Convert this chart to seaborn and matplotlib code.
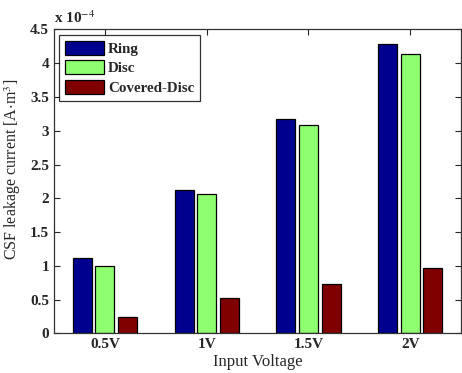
import matplotlib
matplotlib.use("Agg")
import matplotlib.pyplot as plt
import seaborn as sns
import pandas as pd

categories = ["0.5V", "1V", "1.5V", "2V"]
series_names = ["Ring", "Disc", "Covered-Disc"]
ring = [1.11, 2.13, 3.17, 4.29]
disc = [1.00, 2.06, 3.08, 4.14]
covered = [0.24, 0.53, 0.725, 0.975]
colors = ["#00008F", "#8FFF6F", "#800000"]

rows = []
for name, vals in zip(series_names, [ring, disc, covered]):
    for c, v in zip(categories, vals):
        rows.append({"Voltage": c, "Series": name, "Value": v})
df = pd.DataFrame(rows)

sns.set_style("ticks")
plt.rcParams['font.family'] = ['Liberation Serif', 'DejaVu Serif']
plt.rcParams['mathtext.fontset'] = 'stix'

fig = plt.figure(figsize=(4.62, 3.73), dpi=100)
ax = fig.add_axes([0.117, 0.106, 0.881, 0.815])

sns.barplot(data=df, x="Voltage", y="Value", hue="Series", order=categories,
            hue_order=series_names, palette=colors, saturation=1,
            width=0.667, gap=0.16,
            edgecolor="black", linewidth=0.9, errorbar=None, ax=ax)

ax.set_xlim(-0.5, 3.5)
ax.set_ylim(0, 4.5)
ax.set_yticks([0, 0.5, 1, 1.5, 2, 2.5, 3, 3.5, 4, 4.5])
ax.set_yticklabels(["0", "0.5", "1", "1.5", "2", "2.5", "3", "3.5", "4", "4.5"])
ax.tick_params(direction="in", top=True, right=True, length=4, width=0.8,
               labelsize=11)
for lbl in ax.get_xticklabels() + ax.get_yticklabels():
    lbl.set_fontweight("bold")
for s in ax.spines.values():
    s.set_linewidth(0.9)
    s.set_color("#333333")

ax.set_xlabel("Input Voltage", fontsize=12, labelpad=2)
ax.set_ylabel(r"CSF leakage current [A$\cdot$m$^3$]", fontsize=11.5)
ax.yaxis.set_label_coords(-0.076, 0.54)
ax.text(0.0, 1.012, r"x 10$^{-4}$", transform=ax.transAxes, fontsize=11,
        fontweight="bold", ha="left", va="bottom")

leg = ax.legend(loc="upper left", frameon=True, fancybox=False,
                edgecolor="black", handlelength=2.6, handleheight=1.05,
                borderaxespad=0.35, labelspacing=0.3, handletextpad=0.25,
                borderpad=0.4, prop={"weight": "bold", "size": 10.8})
leg.get_frame().set_linewidth(0.9)

fig.savefig("out.png", dpi=100)
